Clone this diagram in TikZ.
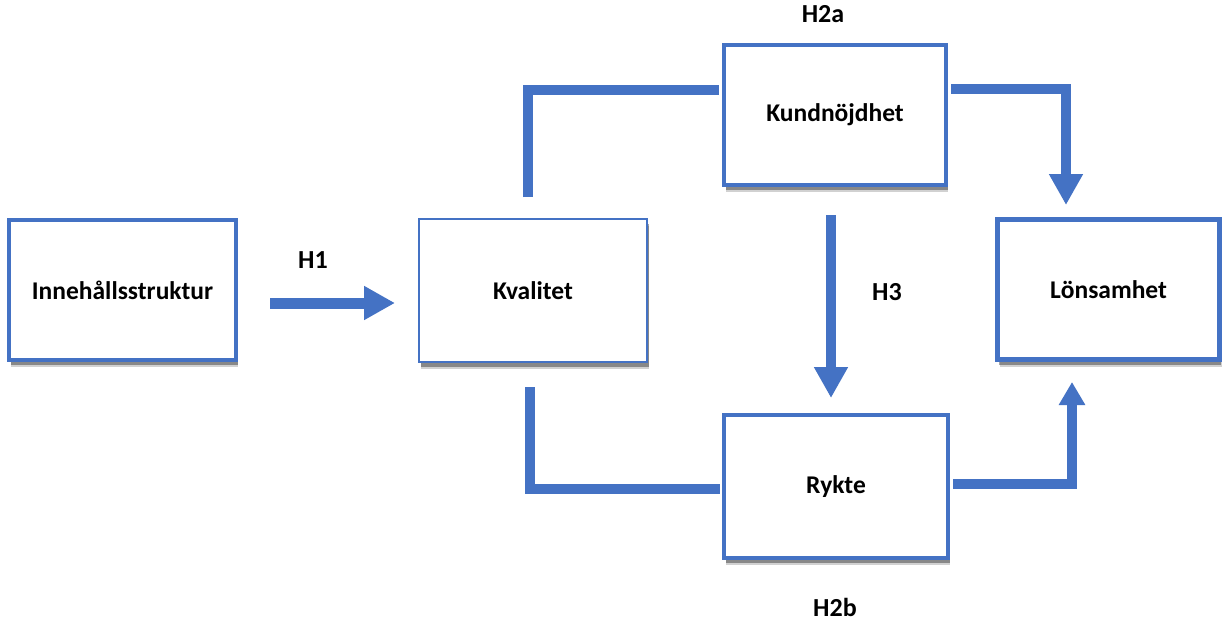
\documentclass[tikz,border=0pt]{standalone}
\usepackage{fontspec}
\setmainfont{Carlito}
\usetikzlibrary{arrows.meta,shadows}
\definecolor{bl}{RGB}{68,114,196}
\begin{document}
\begin{tikzpicture}[x=1pt,y=-1pt,
  box/.style={draw=bl, line width=4pt, fill=white, inner sep=0pt,
    font=\bfseries\fontsize{25.5}{30}\selectfont,
    drop shadow={shadow xshift=2pt,shadow yshift=-7pt,fill=black,opacity=0.18},
    drop shadow={shadow xshift=1.5pt,shadow yshift=-5pt,fill=black,opacity=0.35}},
  conn/.style={draw=bl, line width=10pt},
  bigtip/.style={-{Triangle[width=32pt,length=31pt]}},
  smalltip/.style={-{Triangle[width=25pt,length=23pt]}},
  lab/.style={font=\bfseries\fontsize{26}{30}\selectfont}]
\useasboundingbox (0,0) rectangle (1224,622);
\fill[white] (0,0) rectangle (1224,622);
% boxes
\node[box,minimum width=227pt,minimum height=140pt] (inn) at (122.5,290) {Innehållsstruktur};
\node[box,line width=2pt,minimum width=228pt,minimum height=143pt] (kval) at (533,290.5) {Kvalitet};
\node[box,minimum width=222pt,minimum height=140pt] (kund) at (835,115) {Kundnöjdhet};
\node[box,minimum width=224pt,minimum height=143pt] (rykte) at (836,486.5) {Rykte};
\node[box,line width=5pt,minimum width=222pt,minimum height=140pt] (lon) at (1108.5,289.5) {Lönsamhet};
% labels
\node[lab] (h1) at (313,260) {H1};
\node[lab] (h2a) at (823,14) {H2a};
\node[lab] (h3) at (887,292) {H3};
\node[lab] (h2b) at (835,607) {H2b};
% connector end points
\coordinate (h1s) at (270,303);
\coordinate (h1e) at (395,303);
\coordinate (kq) at (528,197);
\coordinate (kr) at (530,387);
\coordinate (lt) at (1066,205);
\coordinate (lb) at (1072,382);
\coordinate (h3s) at (831,215);
\coordinate (h3e) at (831,398);
% connectors
\draw[conn,line width=11pt,bigtip] (h1s) -- (h1e);
\draw[conn] (kq) |- ([xshift=-3pt,yshift=25pt]kund.west);
\draw[conn,bigtip] ([xshift=3pt,yshift=26pt]kund.east) -| (lt);
\draw[conn,bigtip] (h3s) -- (h3e);
\draw[conn] (kr) |- ([xshift=-2pt,yshift=-2.5pt]rykte.west);
\draw[conn,smalltip] ([xshift=3pt,yshift=2.5pt]rykte.east) -| (lb);
\end{tikzpicture}
\end{document}
